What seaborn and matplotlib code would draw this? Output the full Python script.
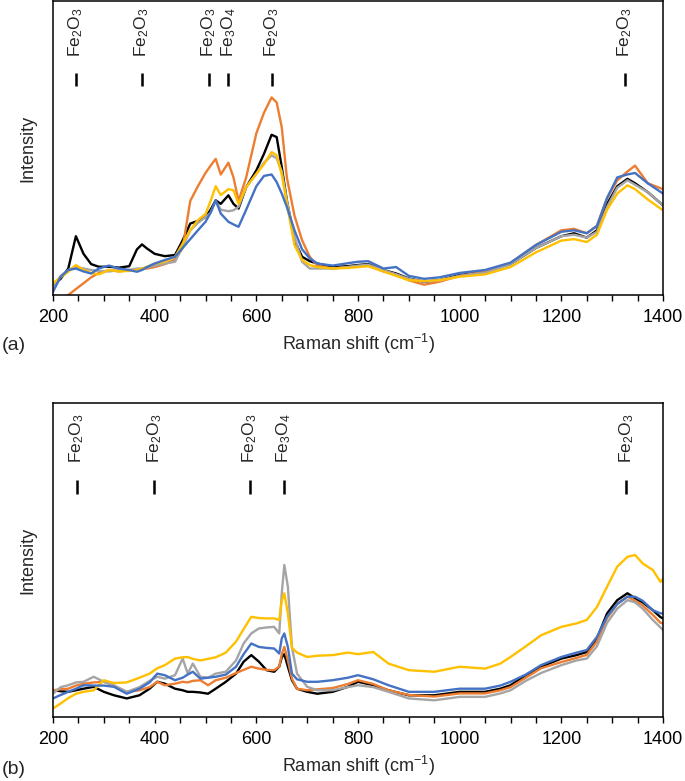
import matplotlib
matplotlib.use("Agg")
import matplotlib.pyplot as plt
from matplotlib.ticker import MultipleLocator
import seaborn as sns

# ---- panel (a) spectra, intensity in arbitrary units (0-100 = axes height)
shift_a = [200, 215, 230, 245, 260, 275, 290, 310, 330, 350, 365, 375, 385, 400, 420,
           440, 455, 470, 485, 500, 510, 520, 530, 545, 555, 565, 580, 600, 615, 630,
           640, 650, 660, 675, 690, 705, 720, 750, 780, 800, 820, 850, 875, 900, 930,
           960, 1000, 1050, 1100, 1150, 1200, 1225, 1250, 1270, 1290, 1310, 1330, 1345, 1370, 1400]
black_a = [3.4, 5.5, 9, 20, 14, 10.5, 9.6, 9.6, 9.3, 9.8, 15.5, 17.2, 15.8, 14, 13.2,
           13.6, 18.6, 24.3, 25.2, 26.5, 29, 32.2, 31, 33.9, 31, 29.4, 36.7, 42.4, 48, 54.5,
           53.7, 43.5, 32.2, 18.6, 13, 11.5, 10.7, 9.5, 9.8, 10.2, 10.5, 8.5, 7.3, 5.6, 4.5,
           5, 6.8, 7.9, 10.5, 16, 20, 21, 19.5, 22, 31, 37, 39.5, 38, 35, 30.5]
orange_a = [-3, -2, 0, 2, 4, 6, 7.5, 8.5, 8, 8.5, 8.5, 9, 9, 9.5, 10.5,
            12, 16, 32, 37, 41.5, 44, 46.3, 41, 45, 40, 32, 40, 55, 62, 67.2,
            65.5, 57, 40, 27, 18.6, 13, 10, 9, 9.5, 9.8, 10, 8, 7, 5, 3.5,
            4.5, 6.5, 8, 10.8, 17, 22, 22.5, 21, 23.5, 33, 39, 42, 44, 38, 36]
gray_a = [2.8, 6.5, 8.5, 9.6, 9, 8.5, 8.2, 8, 8.5, 8.5, 9, 9, 9.3, 10, 10.7,
          11.3, 16.4, 22, 24.5, 26.5, 28, 32, 29, 28.5, 28.8, 30, 36.7, 41.2, 45, 47.5,
          46.5, 42, 32.2, 19.8, 11.3, 9, 9, 9, 9.5, 10, 10.3, 8.5, 7, 5.5, 4.5,
          5, 6.5, 7.5, 10.5, 16, 20, 20.5, 19.5, 21.5, 30, 36.5, 39, 37.5, 35, 30.5]
yellow_a = [4, 6, 7.9, 10.2, 8.5, 7.5, 7, 8.5, 8, 8.2, 8.5, 9, 9.6, 10.7, 11.3,
            13, 17.5, 22, 25.5, 27.5, 32, 37, 34, 36, 35.6, 31, 36.7, 41.2, 44.5, 48.6,
            47.5, 41, 31, 17, 11.9, 10.2, 9.5, 9, 9.2, 9.5, 9.8, 8, 6.5, 5, 4.8,
            5, 6.2, 7, 9.5, 14.5, 18.5, 19, 18, 20.5, 29, 34.5, 37.3, 36, 32.5, 28.8]
blue_a = [1.1, 6.2, 8.5, 9, 8, 7.3, 9, 10, 9, 8.5, 7.9, 8.5, 9.5, 10.7, 11.9,
          13, 16, 19, 22, 24.9, 28, 32.2, 27.7, 24.9, 24, 23.2, 29, 37, 40.5, 41,
          38.4, 34.5, 30, 22, 15.5, 12.5, 10.7, 10, 10.8, 11.3, 11.5, 9, 9.5, 6.5, 5.5,
          6, 7.5, 8.5, 11, 17, 21.5, 22, 21, 23.5, 33, 40, 41, 41.5, 38, 34.5]

# ---- panel (b) spectra
shift_b = [200, 215, 230, 245, 260, 280, 300, 320, 345, 370, 390, 405, 420, 440, 455,
           465, 475, 490, 505, 520, 540, 560, 575, 590, 605, 620, 635, 645, 650, 655,
           662, 670, 680, 700, 720, 750, 780, 800, 830, 860, 900, 950, 1000, 1050, 1080,
           1100, 1130, 1160, 1200, 1230, 1250, 1270, 1290, 1310, 1330, 1345, 1360, 1380, 1395, 1400]
black_b = [8.5, 8.2, 8, 8.5, 9, 9.6, 8, 6.9, 5.9, 6.9, 9, 11.2, 10.6, 9, 8.5,
           8, 8, 7.8, 7.4, 9, 11.2, 13.8, 17.6, 19.7, 17.6, 14.9, 14.4, 16, 19, 20,
           16, 11.7, 9, 8, 7.4, 8, 9.6, 11.2, 10.1, 8.5, 6.9, 6.9, 8, 8, 9,
           10.1, 13.3, 16, 18.6, 19.7, 20.7, 25, 33, 37.2, 39.4, 37.8, 36.5, 34, 31.8, 31.4]
orange_b = [8.5, 8.8, 9, 10, 10.6, 11, 11.2, 10, 8, 8.5, 9.5, 11.2, 10.1, 10.6, 11.2,
            11, 11.5, 11.7, 10.1, 11.7, 12.5, 14, 15, 16, 15.4, 15, 14.9, 16, 20, 22.3,
            18, 12.2, 9, 8.5, 8.8, 9.2, 10.5, 11.7, 10.5, 8.5, 7, 6.5, 7.5, 7.5, 8.5,
            9.5, 12.5, 15.5, 17.5, 18.8, 19.8, 24, 31.5, 36, 38.3, 37, 35.5, 32.5, 30, 29.8]
gray_b = [7.4, 9.5, 10.1, 11, 11.2, 12.8, 11.2, 10, 8, 9.5, 11.5, 12.8, 12.2, 13.3, 18.6,
          13.8, 17, 12.8, 12.5, 13.8, 14.4, 18, 23.4, 26.6, 28.2, 28.5, 28.7, 26.6, 39.4, 48.4,
          41.5, 22.3, 13.8, 9.6, 8.5, 8.5, 9.5, 10.1, 9.5, 8, 5.9, 5.3, 6.4, 6.4, 7.5,
          8.5, 11.5, 14, 16.5, 18, 18.6, 22.5, 30, 34.5, 37.2, 36.5, 34.5, 30.9, 28.5, 27.7]
blue_b = [5.9, 7, 8, 9, 10.1, 10, 10, 9.6, 7.4, 9, 11, 13.8, 13.3, 11.7, 12.5,
          13.5, 14.4, 12.2, 12.5, 12.8, 13.5, 16, 20, 23.4, 22.3, 22, 21.8, 20.2, 25, 26.6,
          22.3, 13.8, 12, 11.2, 11.2, 11.7, 12.5, 13.3, 12, 10.1, 8, 8, 9, 9, 10,
          11.2, 13.5, 16.5, 19.1, 20.5, 21.3, 25.5, 32, 36, 38.3, 38.3, 37, 34, 33, 33]
yellow_b = [2.7, 4.3, 6, 7.4, 8, 8.5, 11.7, 10.8, 11, 12.5, 13.8, 15.5, 16.5, 18.6, 19,
            19.1, 18.5, 18, 18.5, 19, 20.5, 24, 28, 31.9, 31.5, 31.4, 31.4, 30.9, 37, 39.4,
            33, 22, 20.5, 19.1, 19.5, 19.7, 20.5, 20, 20.7, 17, 14.9, 14.4, 16, 15.4, 17,
            19.1, 22.5, 26, 28.7, 29.8, 30.9, 35, 41.5, 47.9, 51, 51.6, 48.9, 46.8, 43, 44]

# ---- peak assignments
peaks_a = [245, 375, 507, 545, 631, 1325]
labels_a = ["Fe$_2$O$_3$", "Fe$_2$O$_3$", "Fe$_2$O$_3$", "Fe$_3$O$_4$", "Fe$_2$O$_3$", "Fe$_2$O$_3$"]
peaks_b = [247, 399, 587, 654, 1328]
labels_b = ["Fe$_2$O$_3$", "Fe$_2$O$_3$", "Fe$_2$O$_3$", "Fe$_3$O$_4$", "Fe$_2$O$_3$"]

colors = ["black", "#ED7D31", "#A5A5A5", "#FFC000", "#4472C4"]

sns.set_style("ticks")
plt.rcParams["font.family"] = ["Liberation Sans", "DejaVu Sans"]
plt.rcParams["mathtext.default"] = "regular"
plt.rcParams["font.size"] = 13


def draw_panel(ax, shift, series, peaks, labels, tag, tag_y):
    for ys, c in zip(series, colors):
        sns.lineplot(x=shift, y=ys, color=c, lw=1.7, ax=ax, sort=False,
                     estimator=None)
    ax.set_xlim(200, 1400)
    ax.set_ylim(0, 100)
    ax.set_yticks([])
    ax.xaxis.set_major_locator(MultipleLocator(200))
    ax.xaxis.set_minor_locator(MultipleLocator(50))
    ax.tick_params(axis="x", which="both", direction="out", length=4, width=1,
                   labelsize=13, pad=6, colors="black")
    for s in ax.spines.values():
        s.set_linewidth(1.1)
        s.set_color("black")
    ax.set_xlabel("Raman shift (cm$^{-1}$)", fontsize=13, labelpad=4)
    ax.set_ylabel("Intensity", fontsize=13, labelpad=12)
    trans = ax.get_xaxis_transform()
    ax.vlines(peaks, 0.71, 0.755, transform=trans, color="black", lw=1.8)
    for p, lab in zip(peaks, labels):
        ax.text(p, 0.81, lab, transform=trans, rotation=90, ha="center",
                va="bottom", fontsize=12.5)
    ax.figure.text(0.003, tag_y, tag, fontsize=14, va="center", ha="left")


fig = plt.figure(figsize=(6.85, 7.81), dpi=100)
ax1 = fig.add_axes([0.0774, 0.6223, 0.8905, 0.3764])
ax2 = fig.add_axes([0.0774, 0.082, 0.8905, 0.402])

draw_panel(ax1, shift_a, [black_a, orange_a, gray_a, yellow_a, blue_a],
           peaks_a, labels_a, "(a)", 1 - 345 / 781)
draw_panel(ax2, shift_b, [black_b, orange_b, gray_b, yellow_b, blue_b],
           peaks_b, labels_b, "(b)", 1 - 769 / 781)

fig.savefig("out.png", dpi=100)
